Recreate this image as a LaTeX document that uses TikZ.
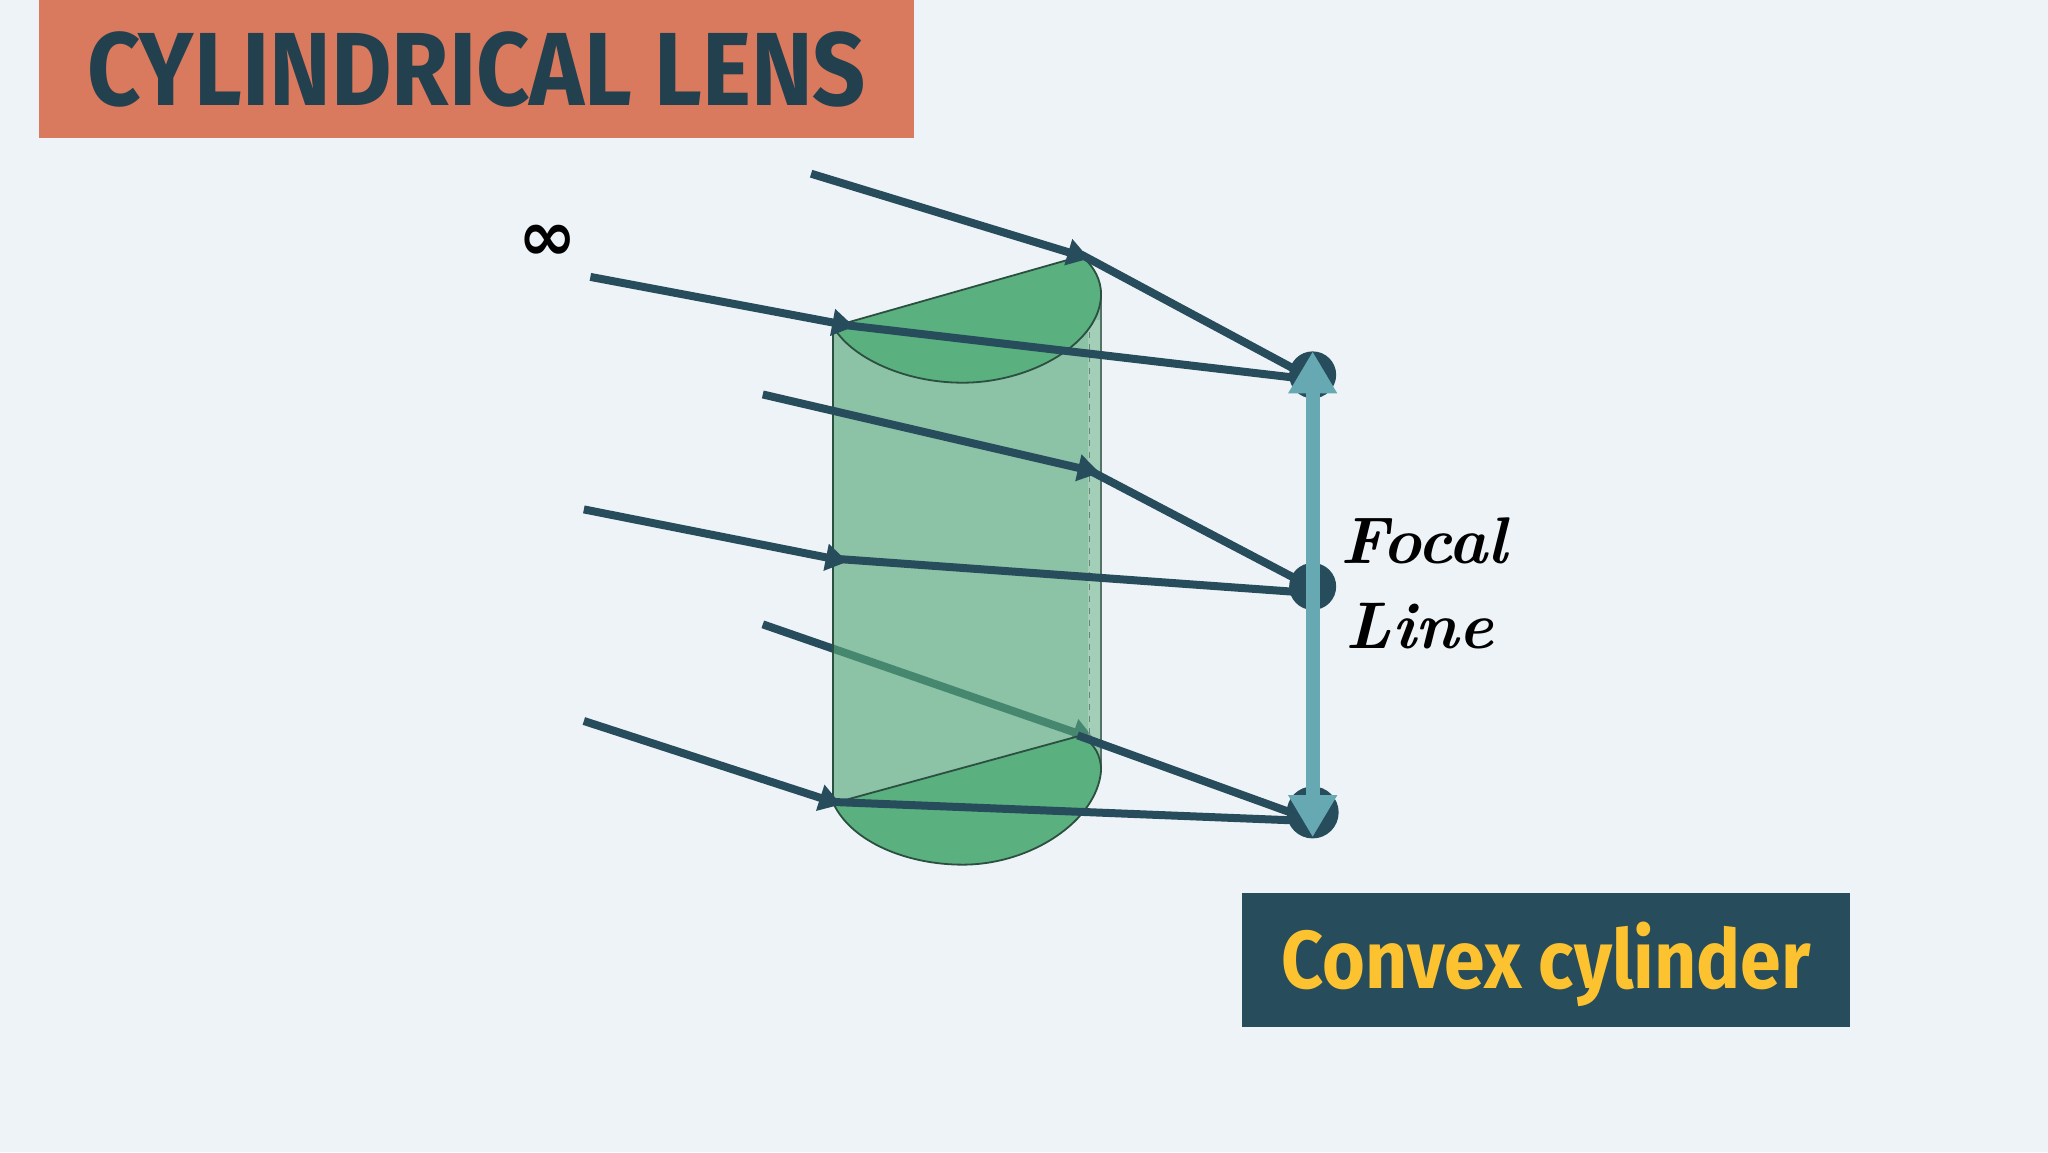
\documentclass[tikz,border=0pt]{standalone}
\usepackage{fontspec}
\usetikzlibrary{arrows.meta}
\newfontfamily\firacond[FakeStretch=0.895]{Fira Sans}
\newfontfamily\symfont{DejaVu Sans}
\definecolor{bgc}{HTML}{EEF3F7}
\definecolor{titlebg}{HTML}{D9795D}
\definecolor{navy}{HTML}{274C5C}
\definecolor{titletxt}{HTML}{23404F}
\definecolor{gold}{HTML}{FDC230}
\definecolor{teal2}{HTML}{66A9B2}
\definecolor{capgreen}{HTML}{5BB07F}
\definecolor{bodygreen}{HTML}{58A97A}
\definecolor{edgegreen}{HTML}{2B4F40}
\tikzset{
  rayin/.style={draw=navy,line width=4pt,-{Triangle[length=11pt,width=13pt]}},
  rayout/.style={draw=navy,line width=4pt},
  focusdot/.style={circle,fill=navy,inner sep=0pt,minimum size=23.5pt},
  focalarrow/.style={draw=teal2,line width=7pt,{Triangle[length=21pt,width=23pt]}-{Triangle[length=21pt,width=23pt]}},
  capshape/.style={fill=capgreen,draw=edgegreen,line width=.9pt}
}
\begin{document}
\begin{tikzpicture}[x=0.65306pt,y=-0.65306pt]
\useasboundingbox (0,0) rectangle (1568,882);
\fill[bgc] (0,0) rectangle (1568,882);
\fill[titlebg] (30,0) rectangle (700,106);
\node[text=titletxt,font=\firacond\bfseries\fontsize{52}{52}\selectfont,anchor=center] (title) at (365,53) {CYLINDRICAL LENS};
\fill[navy] (951,684) rectangle (1416,786);
\node[text=gold,font=\firacond\bfseries\fontsize{41}{41}\selectfont,anchor=center] (kind) at (1184,738) {Convex cylinder};
\node[font=\symfont\bfseries\fontsize{35}{35}\selectfont] (infty) at (419,186) {∞};
\node[font=\itshape\bfseries\fontsize{33}{33}\selectfont] (focal) at (1090,414) {Focal};
\node[font=\itshape\bfseries\fontsize{33}{33}\selectfont] (linelabel) at (1087,479) {Line};

\node[focusdot] (f1) at (1005,287) {};
\node[focusdot] (f2) at (1005,449) {};
\node[focusdot,minimum size=26pt] (f3) at (1005,622) {};
\coordinate (s1) at (621,133); \coordinate (k1) at (834,198);
\coordinate (s2) at (452,212); \coordinate (k2) at (654,250);
\coordinate (s3) at (584,302); \coordinate (k3) at (842,362);
\coordinate (s4) at (447,390); \coordinate (k4) at (649,430);
\coordinate (s5) at (584,478); \coordinate (k5) at (838,566);
\coordinate (s6) at (447,552); \coordinate (k6) at (644,616);
\coordinate (e1) at (990,282); \coordinate (e2) at (990,289);
\coordinate (e3) at (990,442); \coordinate (e4) at (990,453);
\coordinate (e5) at (988,622); \coordinate (e6) at (988,628);
\coordinate (b1) at (828,195); \coordinate (b2) at (648,249);
\coordinate (b3) at (830,358); \coordinate (b4) at (642,428);
\coordinate (b5) at (825,563); \coordinate (b6) at (638,614);

% ray drawn behind the translucent lens
\draw[rayin] (s5) -- (k5);

% lens body
\fill[bodygreen,opacity=.65] (638,250) -- (638,617) -- (828,563) -- (843,580) -- (843,225)
  .. controls (843,262) and (790,293) .. (737,293) .. controls (690,293) and (650,272) .. (638,250) -- cycle;
\fill[white,opacity=.2] (833,245) rectangle (843,572);
\draw[edgegreen,line width=.9pt] (638,250) -- (638,617);
\draw[edgegreen!80,line width=.9pt] (843,225) -- (843,590);
\draw[edgegreen!70,line width=.7pt,dashed] (834,245) -- (834,570);
\draw[capshape] (638,250) -- (828,196) .. controls (838,204) and (843,215) .. (843,225)
  .. controls (843,262) and (790,293) .. (737,293) .. controls (690,293) and (650,272) .. (638,250) -- cycle;
\draw[capshape] (638,615) -- (828,563) .. controls (838,570) and (843,578) .. (843,590)
  .. controls (840,628) and (790,662) .. (737,662) .. controls (695,662) and (652,645) .. (638,615) -- cycle;

% rays
\draw[rayin] (s1) -- (k1);
\draw[rayin] (s2) -- (k2);
\draw[rayin] (s3) -- (k3);
\draw[rayin] (s4) -- (k4);
\draw[rayin] (s6) -- (k6);
\draw[rayout] (b1) -- (e1);
\draw[rayout] (b2) -- (e2);
\draw[rayout] (b3) -- (e3);
\draw[rayout] (b4) -- (e4);
\draw[rayout] (b5) -- (e5);
\draw[rayout] (b6) -- (e6);

\coordinate (t1) at (1005,269);
\coordinate (t3) at (1005,641);
\draw[focalarrow] (t1) -- (t3);
\end{tikzpicture}
\end{document}
